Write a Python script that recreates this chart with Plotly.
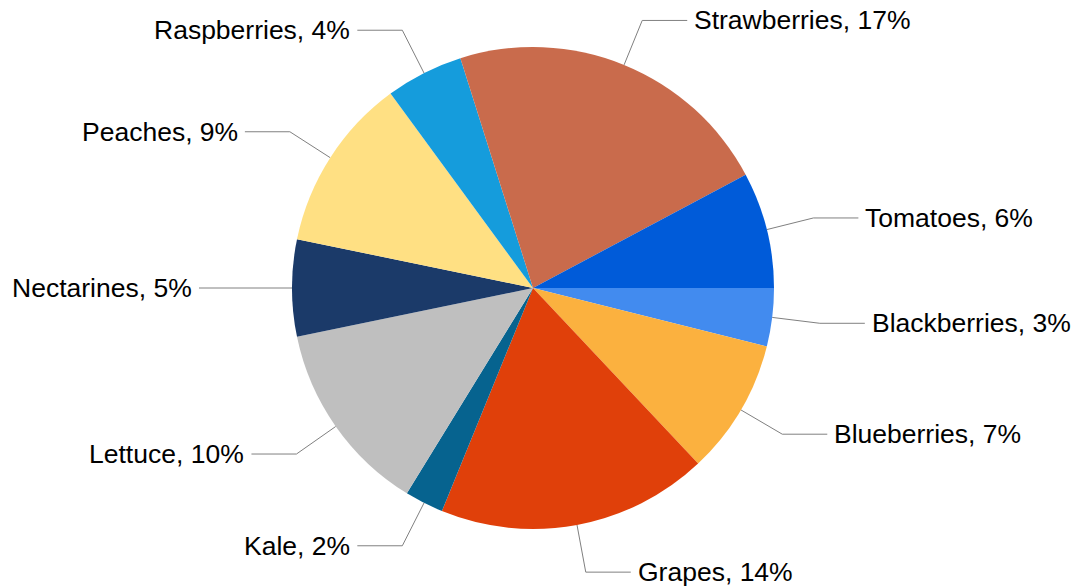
import math
import plotly.graph_objects as go

labels = ["Blackberries", "Blueberries", "Grapes", "Kale", "Lettuce",
          "Nectarines", "Peaches", "Raspberries", "Strawberries", "Tomatoes"]
values = [3, 7, 14, 2, 10, 5, 9, 4, 17, 6]
colors = ["#428BEF", "#FBB13F", "#E0400A", "#06638F", "#BFBFBF",
          "#1B3A69", "#FFE083", "#159CDC", "#C96B4C", "#005BD9"]

OFF = 8  # page body margin
W, H = 1079 - OFF, 587 - OFF
cx, cy, R = 533 - OFF, 288 - OFF, 241
r_elbow = 289
h_len = 45
gap = 5

fig = go.Figure()
fig.add_trace(go.Pie(
    labels=labels, values=values, sort=False, direction="clockwise",
    rotation=90, textinfo="none", hoverinfo="label+value",
    marker=dict(colors=colors, line=dict(width=0)),
    domain=dict(x=[(cx - R) / W, (cx + R) / W], y=[1 - (cy + R) / H, 1 - (cy - R) / H]),
    showlegend=False,
))

total = sum(values)
cum = 0
annotations = []
for lab, v in zip(labels, values):
    mid = (cum + v / 2) / total * 2 * math.pi
    cum += v
    c, s = math.cos(mid), math.sin(mid)
    x0, y0 = cx + R * c, cy + R * s
    x1, y1 = cx + r_elbow * c, cy + r_elbow * s
    side = 1 if c >= 0 else -1
    x2 = x1 + side * h_len
    fig.add_trace(go.Scatter(x=[x0, x1, x2], y=[y0, y1, y1], mode="lines",
                             line=dict(color="#808080", width=1),
                             hoverinfo="skip", showlegend=False))
    annotations.append(dict(
        x=x2 + side * gap, y=y1, xref="x", yref="y", showarrow=False,
        text=f"{lab}, {v}%", xanchor="left" if side > 0 else "right",
        yanchor="middle", font=dict(family="Liberation Sans, Arial", size=26.5, color="#000000")))

fig.update_layout(
    width=W, height=H, margin=dict(l=0, r=0, t=0, b=0),
    paper_bgcolor="white", plot_bgcolor="rgba(0,0,0,0)",
    xaxis=dict(range=[0, W], visible=False, domain=[0, 1], fixedrange=True),
    yaxis=dict(range=[H, 0], visible=False, domain=[0, 1], fixedrange=True),
    annotations=annotations,
)
fig.write_html("out.html")
